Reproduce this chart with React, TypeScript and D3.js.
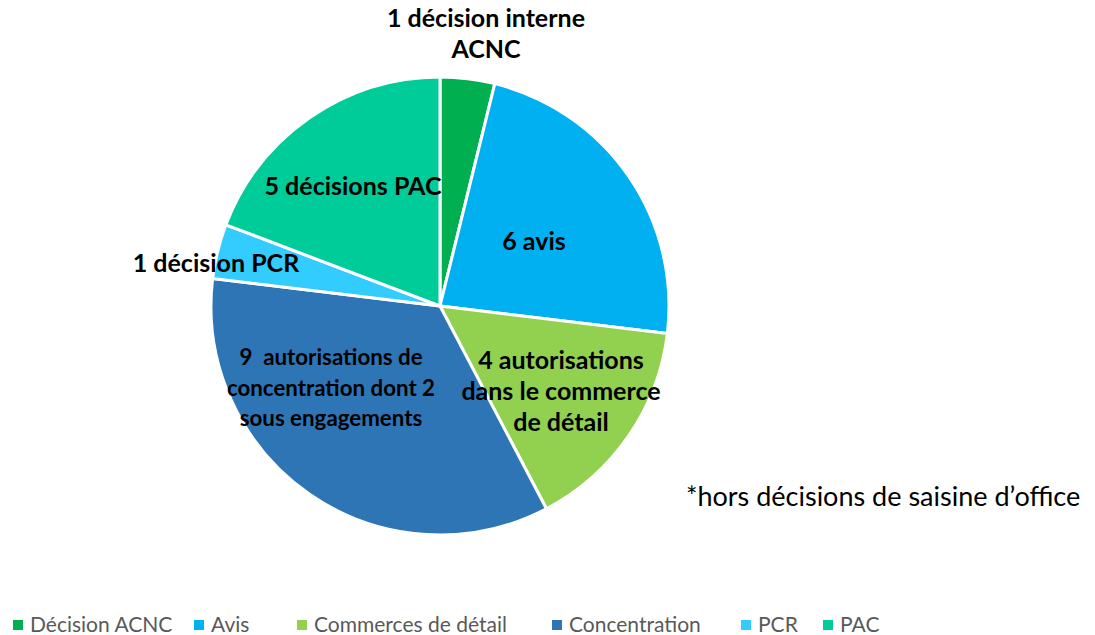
import React from "react";
import * as d3 from "d3";

const categories = ["Décision ACNC", "Avis", "Commerces de détail", "Concentration", "PCR", "PAC"];
const values = [1, 6, 4, 9, 1, 5];
const colors = ["#00B050", "#00B0F0", "#92D050", "#2E75B6", "#33CCFF", "#00CC99"];
const sliceLabels = [
  ["1 décision interne", "ACNC"],
  ["6 avis"],
  ["4 autorisations", "dans le commerce", "de détail"],
  ["9  autorisations de", "concentration dont 2", "sous engagements"],
  ["1 décision PCR"],
  ["5 décisions PAC"],
];
const footnote = "*hors décisions de saisine d’office";

// layout (label center x, first baseline y, font size, line gap)
const labelPos: [number, number, number, number][] = [
  [486, 27, 25, 31],
  [534, 250, 25, 31],
  [561, 369, 25, 31],
  [331, 365, 22.3, 30.5],
  [216, 272, 25, 31],
  [353, 195, 25, 31],
];
const legendX = [13, 194, 297, 552, 741, 823];

export default function App() {
  const W = 1095, H = 635;
  const cx = 440, cy = 306, r = 229;
  const pie = d3.pie<number>().sort(null).value((d) => d)(values);
  const arc = d3.arc<d3.PieArcDatum<number>>().innerRadius(0).outerRadius(r);
  const font = "Lato, 'Open Sans', sans-serif";
  return (
    <svg width={W} height={H} style={{ position: "absolute", left: 0, top: 0, background: "#fff" }}>
      <g transform={`translate(${cx},${cy})`}>
        {pie.map((p, i) => (
          <path key={i} d={arc(p) || ""} fill={colors[i]} stroke="#fff" strokeWidth={3} strokeLinejoin="round" />
        ))}
      </g>
      {sliceLabels.map((lines, i) => (
        <text key={i} textAnchor="middle" fontFamily={font} fontWeight="bold" fontSize={labelPos[i][2]} fill="#000">
          {lines.map((l, j) => (
            <tspan key={j} x={labelPos[i][0]} y={labelPos[i][1] + j * labelPos[i][3]} style={{ whiteSpace: "pre" }}>{l}</tspan>
          ))}
        </text>
      ))}
      <text x={686} y={506} fontFamily={font} fontSize={27} fill="#000">{footnote}</text>
      {categories.map((c, i) => (
        <g key={c}>
          <rect x={legendX[i]} y={620} width={10} height={10} fill={colors[i]} />
          <text x={legendX[i] + 17} y={632} fontFamily={font} fontSize={21} fill="#595959">{c}</text>
        </g>
      ))}
    </svg>
  );
}
